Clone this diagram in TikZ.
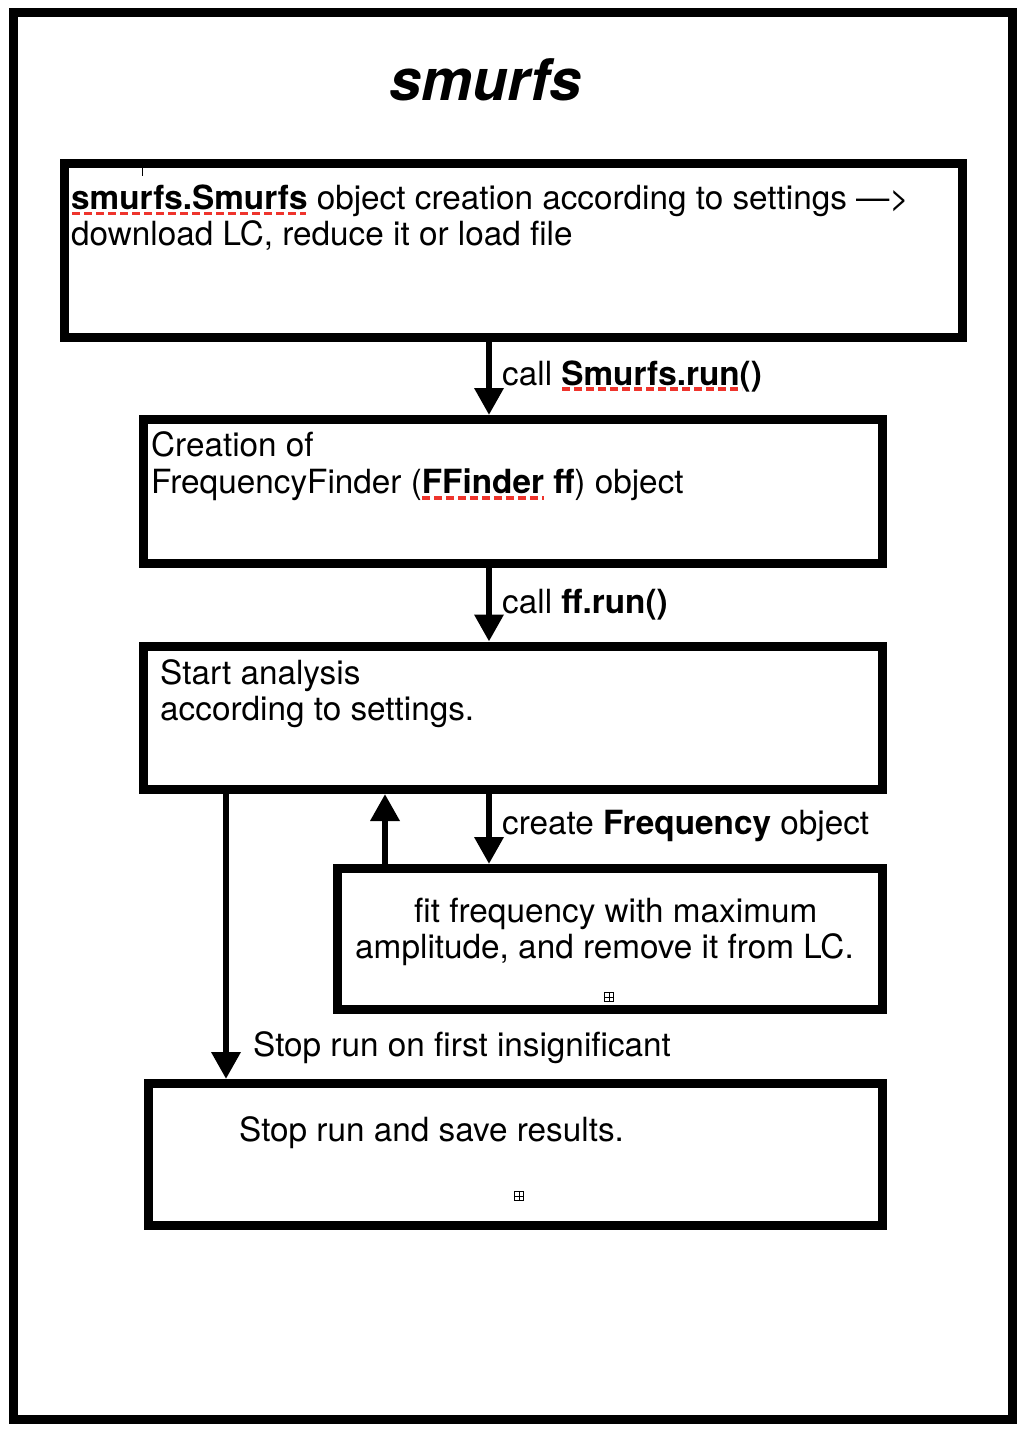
\documentclass[tikz,border=0pt]{standalone}
\usepackage{fontspec}
\setmainfont{TeX Gyre Heros}
\usetikzlibrary{arrows.meta}
\definecolor{spellred}{RGB}{238,52,44}

\begin{document}
\begin{tikzpicture}[x=1pt,y=-1pt,
	box/.style={draw,line width=9pt,inner sep=0pt},
	txt/.style={anchor=base west,inner sep=0pt,font=\fontsize{33.3}{37}\selectfont},
	flow/.style={line width=6.5pt,-{Triangle[width=28pt,length=27pt]}},
	spell/.style={spellred,line width=3.2pt,dash pattern=on 8pt off 4pt},
	anchorbox/.style={draw,line width=0.8pt,inner sep=0pt,minimum size=9pt,
		path picture={\draw[line width=0.8pt] (path picture bounding box.north) -- (path picture bounding box.south)
			(path picture bounding box.west) -- (path picture bounding box.east);}}]
	\useasboundingbox (0,0) rectangle (1035,1432);
	\draw[line width=9pt] (13,12.5) rectangle (1012.5,1419);
	\node[anchor=base,inner sep=0pt,font=\fontsize{57.5}{60}\selectfont\bfseries\itshape] (title) at (485.5,100) {smurfs};
	% boxes
	\node[box,minimum width=898pt,minimum height=174pt] (b1) at (513,250) {};
	\node[box,minimum width=738.5pt,minimum height=143.5pt] (b2) at (512.75,491.25) {};
	\node[box,minimum width=738.5pt,minimum height=143.5pt] (b3) at (512.75,717.75) {};
	\node[box,minimum width=544.5pt,minimum height=141pt] (b4) at (609.75,939) {};
	\node[box,minimum width=734pt,minimum height=142pt] (b5) at (515,1154.5) {};
	% box texts
	\node[txt] (b1-1) at (71,209) {\textbf{smurfs.Smurfs} object creation according to settings —>};
	\node[txt] (b1-2) at (71,245) {download LC, reduce it or load file};
	\node[txt] (b2-1) at (151,456) {Creation of};
	\node[txt] (b2-2) at (151,493) {FrequencyFinder (\textbf{FFinder ff}) object};
	\node[txt] (b3-1) at (160,684) {Start analysis};
	\node[txt] (b3-2) at (160,720) {according to settings.};
	\node[txt] (b4-1) at (414,922) {fit frequency with maximum};
	\node[txt] (b4-2) at (355,958) {amplitude, and remove it from LC.};
	\node[txt] (b5-1) at (239,1141) {Stop run and save results.};
	% connectors
	\coordinate (c1) at (489,0);
	\coordinate (c2) at (385,0);
	\coordinate (c3) at (226,0);
	\path[flow]
	(b1.south -| c1) edge (b2.north -| c1)
	(b2.south -| c1) edge (b3.north -| c1)
	(b3.south -| c1) edge (b4.north -| c1)
	(b4.north -| c2) edge (b3.south -| c2)
	(b3.south -| c3) edge (b5.north -| c3);
	\node[txt] (l1) at (502,385) {call \textbf{Smurfs.run()}};
	\node[txt] (l2) at (502,613) {call \textbf{ff.run()}};
	\node[txt] (l3) at (502,834) {create \textbf{Frequency} object};
	\node[txt] (l4) at (253,1056) {Stop run on first insignificant};
	% spell check marks
	\draw[spell] (72,213.5) -- (306,213.5);
	\draw[spell] (562,389) -- (742,389);
	\draw[spell] (422,498) -- (544,498);
	\draw[line width=0.8pt] (142.5,167.5) -- (142.5,176);
	\node[anchorbox] (m1) at (609,997) {};
	\node[anchorbox] (m2) at (519,1196) {};
\end{tikzpicture}
\end{document}
